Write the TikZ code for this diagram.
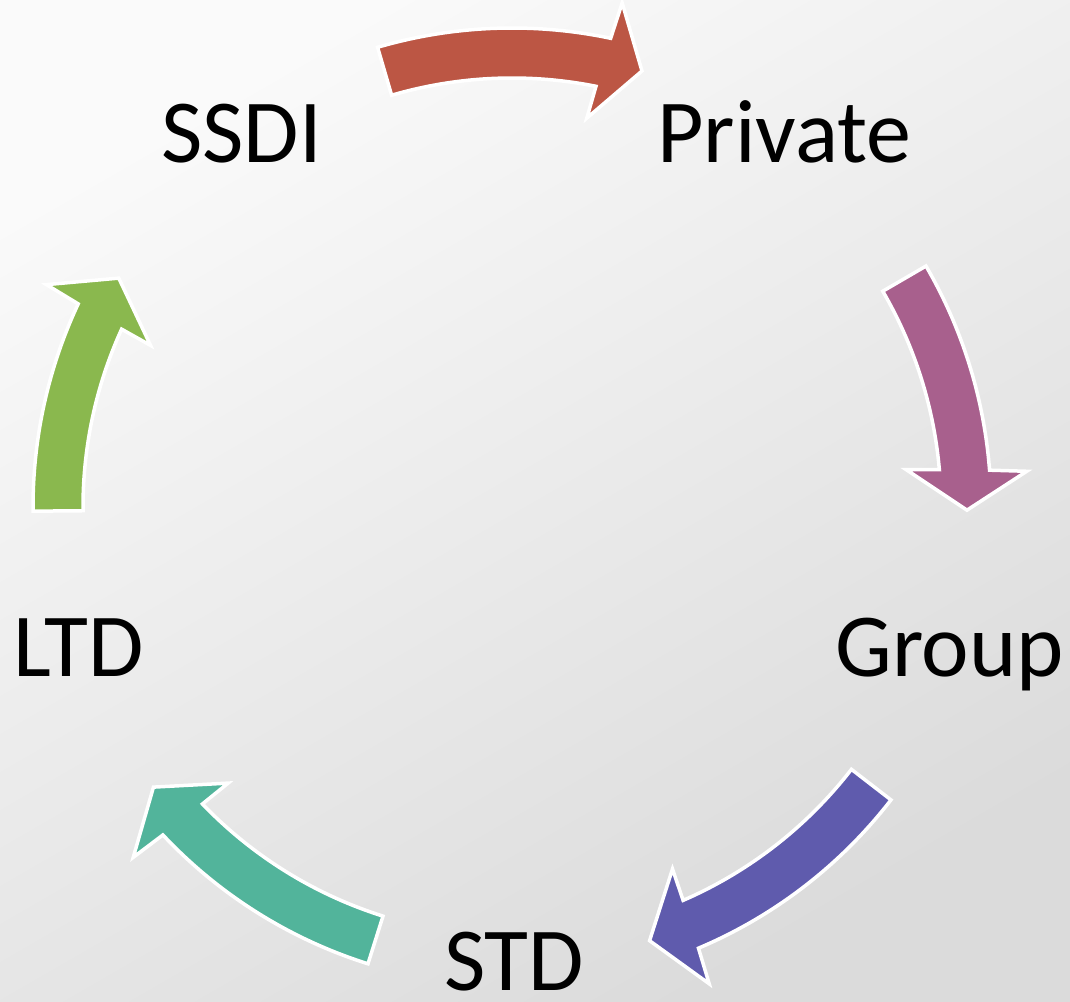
\documentclass[tikz,border=0pt]{standalone}
\usepackage{fontspec}
\setmainfont{Carlito}
\definecolor{cRed}{HTML}{BC5644}
\definecolor{cPurple}{HTML}{A8608D}
\definecolor{cIndigo}{HTML}{5F5BAD}
\definecolor{cTeal}{HTML}{52B49B}
\definecolor{cGreen}{HTML}{8AB84E}
\definecolor{bgTop}{HTML}{FAFAFA}
\definecolor{bgBot}{HTML}{DBDBDB}
\tikzset{
  label/.style={inner sep=0pt, anchor=base west, font=\fontsize{90}{100}\selectfont, text=black},
  cyclearrow/.style={fill=#1, draw=white, line width=3.5pt, line join=miter}
}
% #1 colour, #2 tail angle, #3 head base angle, #4 tip angle
\newcommand\cycarrow[4]{%
  \path[cyclearrow=#1] (#2:479) arc[start angle=#2, end angle={#3-0.29}, radius=479]
    -- ({#3-0.73}:516) -- (#4:455) -- ({#3+0.71}:396) -- ({#3+0.31}:429)
    arc[start angle={#3+0.31}, end angle=#2, radius=429] -- cycle;}
\begin{document}
\begin{tikzpicture}[x=1pt,y=1pt]
  \useasboundingbox (0,0) rectangle (1070,1001);
  \shade[top color=bgTop, bottom color=bgBot, shading angle=30] (0,0) rectangle (1070,1001);
  % labels (y = 1001 - pixel row of baseline)
  \node[label] (ssdi) at (161,838) {SSDI};
  \node[label] (private) at (657,838) {Private};
  \node[label] (group) at (835,324) {Group};
  \node[label] (ltd) at (13,324) {LTD};
  \node[label] (std) at (444,11) {STD};
  % arrows around the cycle centre
  \begin{scope}[shift={(512,494)}]
    \coordinate (centre) at (0,0);
    \cycarrow{cRed}{106.3}{78.4}{73.4}
    \cycarrow{cPurple}{30.2}{4.7}{-0.4}
    \cycarrow{cIndigo}{-37.7}{-66.8}{-72.4}
    \cycarrow{cTeal}{252.5}{223.5}{218.0}
    \cycarrow{cGreen}{180.5}{155.2}{149.8}
  \end{scope}
\end{tikzpicture}
\end{document}
